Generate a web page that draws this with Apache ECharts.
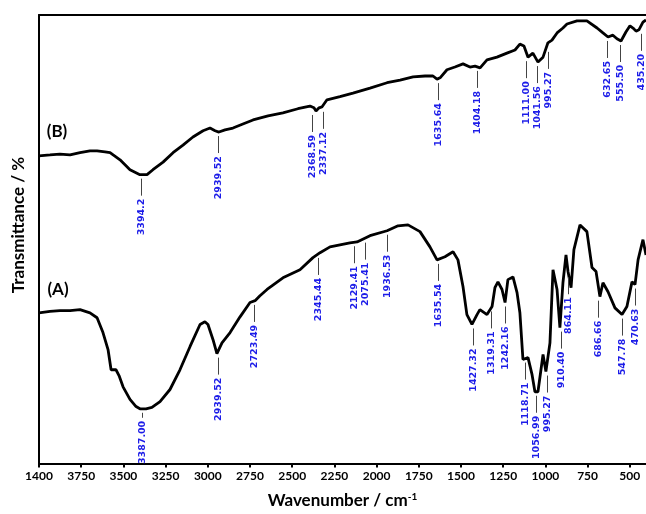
<!DOCTYPE html>
<html>
<head>
<meta charset="utf-8">
<script src="https://cdn.jsdelivr.net/npm/echarts@6/dist/echarts.min.js"></script>
<style>
  html, body { margin: 0; padding: 0; background: #fff; }
  #chart { width: 646px; height: 514px; }
</style>
</head>
<body>
<div id="chart"></div>
<script>
// FTIR spectra: wavenumber (cm-1) vs. relative transmittance, curve B stacked above curve A
const waveB = [4000, 3935, 3876, 3816, 3757, 3698, 3656, 3609, 3579, 3520, 3461, 3402, 3360, 3325, 3265, 3206, 3147, 3088, 3028, 2987, 2957, 2934, 2898, 2851, 2792, 2732, 2643, 2555, 2466, 2395, 2371, 2359, 2341, 2324, 2294, 2217, 2140, 2039, 1938, 1861, 1784, 1713, 1666, 1642, 1624, 1583, 1536, 1488, 1447, 1417, 1387, 1346, 1287, 1228, 1180, 1151, 1127, 1103, 1074, 1044, 1014, 985, 961, 931, 896, 872, 813, 754, 694, 659, 629, 600, 576, 552, 523, 499, 481, 463, 446, 422, 404];
const transB = [68.6, 68.8, 69.0, 68.8, 69.3, 69.7, 69.7, 69.5, 69.3, 67.7, 65.5, 64.4, 64.4, 65.5, 67.2, 69.3, 71.0, 72.8, 74.2, 74.8, 74.2, 73.9, 74.4, 74.8, 75.7, 76.6, 77.5, 78.2, 79.1, 79.7, 79.3, 78.6, 79.3, 79.5, 81.1, 81.8, 82.6, 83.7, 84.9, 85.5, 86.2, 86.4, 86.4, 85.7, 86.0, 87.8, 88.4, 89.1, 88.4, 88.6, 88.2, 90.0, 90.6, 91.5, 92.2, 93.5, 93.1, 90.6, 91.5, 89.5, 90.6, 93.8, 94.4, 96.0, 97.1, 98.0, 98.7, 98.7, 97.1, 96.0, 95.1, 95.5, 94.7, 94.2, 96.2, 97.6, 97.1, 96.4, 96.7, 98.4, 98.9];

const waveA = [4000, 3935, 3876, 3816, 3757, 3698, 3656, 3621, 3591, 3573, 3562, 3544, 3526, 3502, 3461, 3425, 3402, 3366, 3331, 3283, 3224, 3165, 3105, 3046, 3017, 2999, 2969, 2946, 2916, 2868, 2809, 2750, 2720, 2691, 2649, 2555, 2454, 2377, 2335, 2276, 2158, 2116, 2039, 1938, 1873, 1814, 1743, 1684, 1642, 1595, 1547, 1518, 1488, 1465, 1435, 1405, 1388, 1346, 1316, 1299, 1281, 1257, 1239, 1222, 1192, 1168, 1151, 1133, 1103, 1079, 1062, 1044, 1014, 997, 973, 955, 931, 914, 896, 878, 866, 848, 831, 795, 754, 724, 700, 677, 659, 629, 588, 546, 517, 487, 469, 451, 422, 404];
const transA = [33.6, 33.9, 34.1, 34.1, 34.3, 33.6, 32.5, 29.2, 25.4, 20.9, 20.5, 20.9, 19.6, 17.1, 14.3, 12.7, 12.2, 12.2, 12.5, 13.8, 16.5, 20.9, 26.1, 31.0, 31.6, 31.0, 27.6, 24.5, 26.9, 29.2, 32.7, 35.9, 36.3, 37.4, 38.8, 41.4, 43.2, 45.9, 47.0, 48.3, 49.2, 49.4, 50.8, 51.9, 53.0, 53.2, 51.7, 48.3, 45.4, 46.1, 47.2, 45.4, 39.4, 33.2, 31.0, 33.2, 34.3, 33.2, 35.0, 39.2, 40.5, 38.8, 35.9, 41.0, 41.6, 38.1, 33.6, 23.2, 23.6, 19.8, 16.0, 16.0, 24.3, 20.5, 26.9, 43.2, 38.8, 30.3, 40.3, 46.5, 42.8, 39.2, 47.7, 53.2, 51.7, 43.7, 42.8, 37.2, 40.3, 38.3, 34.7, 33.2, 35.0, 40.5, 39.9, 45.4, 49.9, 46.5];

// Peak positions as printed next to each band
const peaksB = ['3394.2', '2939.52', '2368.59', '2337.12', '1635.64', '1404.18', '1111.00', '1041.56', '995.27', '632.65', '555.50', '435.20'];
const peaksA = ['3387.00', '2939.52', '2723.49', '2345.44', '2129.41', '2075.41', '1936.53', '1635.54', '1427.32', '1319.31', '1242.16', '1118.71', '1056.99', '995.27', '910.40', '864.11', '686.66', '547.78', '470.63'];

// Axis ticks and their printed labels
const tickValues = [4000, 3750, 3500, 3250, 3000, 2750, 2500, 2250, 2000, 1750, 1500, 1250, 1000, 750, 500];
const tickLabels = ['1400', '3750', '3500', '3250', '3000', '2750', '2500', '2250', '2000', '1750', '1500', '1250', '1000', '750', '500'];

function pairs(w, t) { return w.map((x, i) => [x, t[i]]); }

// lowest transmittance of a curve close to a wavenumber (interpolated)
function bandFloor(w, t, wn) {
  let best = Infinity;
  for (let i = 0; i < w.length - 1; i++) {
    const a = w[i], b = w[i + 1];
    if (wn <= a && wn >= b) {
      const f = (a - wn) / (a - b);
      best = Math.min(best, t[i] + f * (t[i + 1] - t[i]));
    }
    if (Math.abs(a - wn) <= 12) best = Math.min(best, t[i]);
  }
  return best;
}

function peakData(labels, w, t) {
  return labels.map(s => {
    const wn = parseFloat(s);
    return [wn, bandFloor(w, t, wn)];
  });
}

const LABEL_FONT = 'bold 9.5px "DejaVu Sans"';
const LABEL_COLOR = '#1c1ce8';
const GAP = 4, LEAD = 17, TEXT_GAP = 3, MIN_SEP = 11;

const ctx = document.createElement('canvas').getContext('2d');
function measure(s) { ctx.font = LABEL_FONT; return ctx.measureText(s).width; }

// place leader + value for every band of a series, nudging neighbours apart sideways
function layoutPeaks(labels, data, api, axisY) {
  const items = labels.map((text, i) => {
    const p = api.coord(data[i]);
    const width = Math.ceil(measure(text));
    const top = p[1] + GAP;
    let lead = LEAD;
    const room = axisY - 2 - (top + lead + TEXT_GAP + width);
    if (room < 0) lead = Math.max(5, lead + room);
    const t0 = top + lead + TEXT_GAP;
    return { text, x: p[0], top, lead, t0, t1: t0 + width };
  });
  const order = items.slice().sort((a, b) => a.x - b.x);
  for (let iter = 0; iter < 20; iter++) {
    let moved = false;
    for (let k = 0; k < order.length - 1; k++) {
      const a = order[k], b = order[k + 1];
      const d = b.x - a.x;
      if (d < MIN_SEP && a.t0 < b.t1 && b.t0 < a.t1) {
        const push = (MIN_SEP - d) / 2;
        a.x -= push; b.x += push; moved = true;
      }
    }
    if (!moved) break;
  }
  return items;
}

function peakRenderer(labels, data) {
  return function (params, api) {
    const axisY = params.coordSys.y + params.coordSys.height;
    const it = layoutPeaks(labels, data, api, axisY)[params.dataIndex];
    const x = Math.round(it.x) + 0.5;
    return {
      type: 'group',
      children: [
        { type: 'line', shape: { x1: x, y1: it.top, x2: x, y2: it.top + it.lead },
          style: { stroke: '#444', lineWidth: 1 } },
        { type: 'text', x: x, y: it.t0, rotation: Math.PI / 2,
          style: { text: it.text, font: LABEL_FONT, fill: LABEL_COLOR, align: 'right', verticalAlign: 'middle' } }
      ]
    };
  };
}

const dataPeaksB = peakData(peaksB, waveB, transB);
const dataPeaksA = peakData(peaksA, waveA, transA);

const chart = echarts.init(document.getElementById('chart'), null, { renderer: 'canvas' });

chart.setOption({
  animation: false,
  backgroundColor: '#fff',
  grid: { left: 39, right: 0, top: 15, bottom: 50 },
  xAxis: [{
    type: 'value', min: 404, max: 4000, inverse: true,
    axisLine: { show: true, onZero: false, lineStyle: { color: '#000', width: 2 } },
    axisTick: { show: true, customValues: tickValues, length: 4, lineStyle: { color: '#000', width: 2 } },
    axisLabel: {
      customValues: tickValues,
      formatter: v => tickLabels[tickValues.indexOf(v)],
      color: '#000', fontWeight: 'bold', fontSize: 12, fontFamily: 'Lato', margin: 7,
      showMinLabel: true, showMaxLabel: true
    },
    splitLine: { show: false },
    name: 'Wavenumber / cm{sup|-1}',
    nameLocation: 'middle', nameGap: 28,
    nameTextStyle: {
      color: '#000', fontWeight: 'bold', fontSize: 17, fontFamily: 'Lato',
      rich: { sup: { fontSize: 10, fontWeight: 'bold', fontFamily: 'Lato', verticalAlign: 'top', padding: [0, 0, 8, 0] } }
    }
  }, {
    type: 'value', min: 404, max: 4000, inverse: true, position: 'top',
    axisLine: { show: true, onZero: false, lineStyle: { color: '#000', width: 2 } },
    axisTick: { show: false }, axisLabel: { show: false }, splitLine: { show: false }
  }],
  yAxis: {
    type: 'value', min: 0, max: 100,
    axisLine: { show: true, onZero: false, lineStyle: { color: '#000', width: 2 } },
    axisTick: { show: false }, axisLabel: { show: false }, splitLine: { show: false }
  },
  graphic: [
    { type: 'text', x: 19, y: 225, rotation: Math.PI / 2,
      style: { text: 'Transmittance / %', font: 'bold 17px Lato', fill: '#000', align: 'center', verticalAlign: 'middle' } },
    { type: 'text', x: 57, y: 132,
      style: { text: '(B)', font: 'bold 17px Lato', fill: '#000', align: 'center', verticalAlign: 'middle' } },
    { type: 'text', x: 58, y: 290,
      style: { text: '(A)', font: 'bold 17px Lato', fill: '#000', align: 'center', verticalAlign: 'middle' } }
  ],
  series: [
    { name: 'B', type: 'line', data: pairs(waveB, transB), showSymbol: false, symbol: 'none',
      lineStyle: { color: '#000', width: 2.8 }, clip: true },
    { name: 'A', type: 'line', data: pairs(waveA, transA), showSymbol: false, symbol: 'none',
      lineStyle: { color: '#000', width: 2.8 }, clip: true },
    { name: 'B peaks', type: 'custom', data: dataPeaksB,
      renderItem: peakRenderer(peaksB, dataPeaksB), clip: false, silent: true, z: 5 },
    { name: 'A peaks', type: 'custom', data: dataPeaksA,
      renderItem: peakRenderer(peaksA, dataPeaksA), clip: false, silent: true, z: 5 }
  ]
});
</script>
</body>
</html>
